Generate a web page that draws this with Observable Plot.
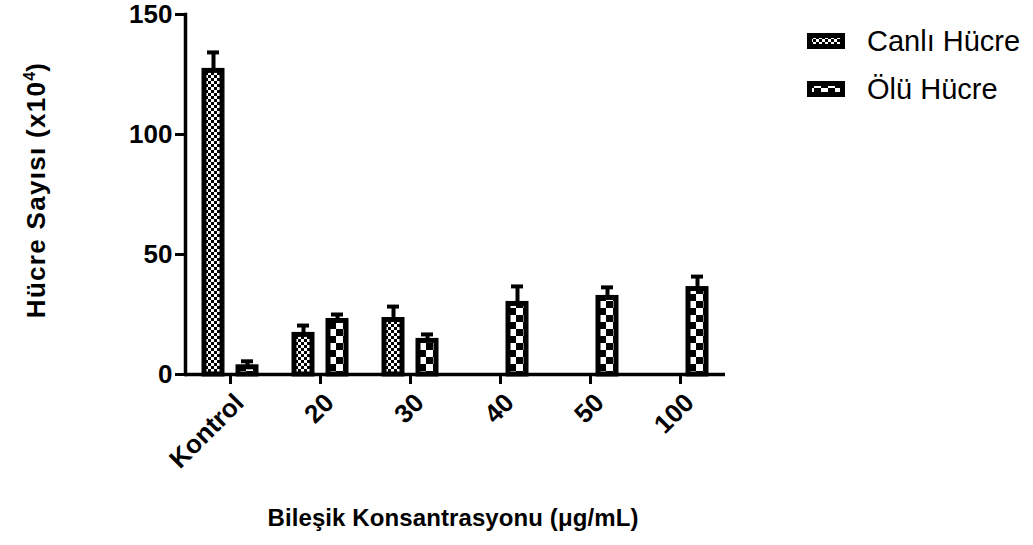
<!DOCTYPE html>
<html><head><meta charset="utf-8">
<script src="https://cdn.jsdelivr.net/npm/d3@7"></script>
<script src="https://cdn.jsdelivr.net/npm/@observablehq/plot@0.6"></script>
<style>
body{margin:0;background:#fff;}
#wrap{position:relative;width:1033px;height:545px;font-family:"Liberation Sans",Arial,sans-serif;color:#000;overflow:hidden;}
#chart{position:absolute;left:0;top:0;}
#ylab{position:absolute;left:36px;top:190px;transform:translate(-50%,-50%) rotate(-90deg);font-weight:bold;font-size:26px;white-space:nowrap;letter-spacing:1.3px;}
#ylab sup{font-size:16px;letter-spacing:0;}
#xlab{position:absolute;left:453px;top:504px;transform:translateX(-50%);font-weight:bold;font-size:24px;white-space:nowrap;letter-spacing:0.1px;}
#legend{position:absolute;left:807px;top:17px;font-size:29px;}
#legend .item{display:flex;align-items:center;height:48px;}
#legend svg{margin-right:22px;}
</style>
</head><body>
<svg width="0" height="0" style="position:absolute">
  <defs>
    <pattern id="pCanli" patternUnits="userSpaceOnUse" width="6" height="6">
      <rect width="6" height="6" fill="#fff"/>
      <rect x="0" y="0" width="3" height="3" fill="#000"/>
      <rect x="3" y="3" width="3" height="3" fill="#000"/>
    </pattern>
    <pattern id="pOlu" patternUnits="userSpaceOnUse" width="14" height="14">
      <rect width="14" height="14" fill="#fff"/>
      <rect x="0" y="0" width="7" height="7" fill="#000"/>
      <rect x="7" y="7" width="7" height="7" fill="#000"/>
    </pattern>
  </defs>
</svg>
<div id="wrap">
  <div id="chart"></div>
  <div id="ylab">Hücre Sayısı (x10<sup>4</sup>)</div>
  <div id="xlab">Bileşik Konsantrasyonu (μg/mL)</div>
  <div id="legend"></div>
</div>
<script>
const categories = ["Kontrol", "20", "30", "40", "50", "100"];
const seriesNames = ["Canlı Hücre", "Ölü Hücre"];
const canliMean = [126.5, 16.5, 22.7, null, null, null];
const canliErr  = [7.7, 3.9, 5.6, null, null, null];
const oluMean   = [3.0, 22.3, 14.0, 29.4, 31.9, 35.6];
const oluErr    = [2.5, 2.7, 2.7, 7.3, 4.4, 5.2];
const yTicks = [0, 50, 100, 150];
const patterns = ["url(#pCanli)", "url(#pOlu)"];

const rows = [];
categories.forEach((c, i) => {
  if (canliMean[i] != null) rows.push({cat: c, series: seriesNames[0], mean: canliMean[i], err: canliErr[i]});
  if (oluMean[i] != null) rows.push({cat: c, series: seriesNames[1], mean: oluMean[i], err: oluErr[i]});
});

const chart = Plot.plot({
  width: 1033, height: 470,
  marginLeft: 184, marginRight: 307, marginTop: 14, marginBottom: 96,
  style: {fontFamily: "Liberation Sans, Arial, sans-serif", fontWeight: "bold", fontSize: "26px", color: "black", background: "white", overflow: "visible"},
  fx: {domain: categories, padding: 0, label: null},
  x: {domain: seriesNames, paddingInner: 0.485, paddingOuter: 0.566, axis: null},
  y: {domain: [0, 150], label: null},
  color: {domain: seriesNames, range: patterns},
  marks: [
    Plot.barY(rows, {fx: "cat", x: "series", y: "mean", fill: "series", stroke: "black", strokeWidth: 5}),
    Plot.ruleX(rows, {fx: "cat", x: "series", y1: "mean", y2: d => d.mean + d.err, stroke: "black", strokeWidth: 4}),
    Plot.tickY(rows, {fx: "cat", x: "series", y: d => d.mean + d.err, stroke: "black", strokeWidth: 4, inset: 3}),
    Plot.ruleY([0], {stroke: "black", strokeWidth: 3.5}),
    Plot.axisY({ticks: yTicks, tickSize: 10, tickPadding: 3, strokeWidth: 3, label: null, fontSize: 26, fontWeight: "bold"}),
    Plot.axisFx({anchor: "bottom", tickSize: 10, text: null, strokeWidth: 3, label: null}),
    Plot.axisFx({anchor: "bottom", tickSize: 0, tickPadding: 24, dx: 9, tickRotate: -45, label: null, fontSize: 26, fontWeight: "bold"}),
    Plot.frame({anchor: "left", facetAnchor: "left", stroke: "black", strokeWidth: 3.5})
  ]
});
document.getElementById("chart").appendChild(chart);

const legend = d3.select("#legend");
seriesNames.forEach((s, i) => {
  const item = legend.append("div").attr("class", "item");
  const sw = item.append("svg").attr("width", 38).attr("height", 16);
  sw.append("rect").attr("x", 2.5).attr("y", 2.5).attr("width", 33).attr("height", 11)
    .attr("fill", patterns[i]).attr("stroke", "black").attr("stroke-width", 5);
  item.append("span").text(s);
});
</script>
</body></html>
